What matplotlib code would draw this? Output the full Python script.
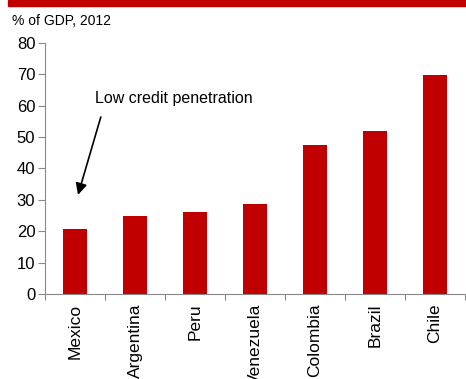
import matplotlib
matplotlib.use("Agg")
import matplotlib.pyplot as plt
from matplotlib.patches import Rectangle

countries = ['Mexico', 'Argentina', 'Peru', 'Venezuela', 'Colombia', 'Brazil', 'Chile']
credit = [20.7, 24.9, 26.0, 28.7, 47.5, 51.8, 69.7]
yticks = [0, 10, 20, 30, 40, 50, 60, 70, 80]

red = '#C00000'
plt.rcParams['font.family'] = ['Liberation Sans', 'DejaVu Sans']

fig = plt.figure(figsize=(4.66, 3.79), dpi=100)
ax = fig.add_axes([0.0966, 0.2243, 0.901, 0.6623])

x = list(range(len(countries)))
ax.bar(x, credit, width=0.39, color=red)
ax.set_xlim(-0.5, len(countries) - 0.5)
ax.set_ylim(0, 80)
ax.set_yticks(yticks)
ax.set_xticks([i - 0.5 for i in range(len(countries) + 1)])
ax.set_xticklabels([])
ax.set_xticks(x, minor=True)
ax.set_xticklabels(countries, minor=True, rotation=90, fontsize=12.5)
ax.tick_params(axis='x', which='minor', length=0, pad=7)
ax.tick_params(axis='x', which='major', length=4, color='#888888', direction='out')
ax.tick_params(axis='y', length=5, color='#888888', labelsize=12, pad=2)

for s in ['top', 'right']:
    ax.spines[s].set_visible(False)
for s in ['left', 'bottom']:
    ax.spines[s].set_color('#888888')

ax.text(0.33, 62.2, 'Low credit penetration', fontsize=11.5, va='center', ha='left')
ax.annotate('', xy=(0.05, 31.6), xytext=(0.43, 56.4),
            arrowprops=dict(arrowstyle='-|>', color='black', lw=1.2,
                            mutation_scale=17, shrinkA=0, shrinkB=0))

fig.text(0.026, 0.945, '% of GDP, 2012', fontsize=10, va='center', ha='left')
fig.patches.append(Rectangle((0.017, 0.984), 0.983, 0.016, transform=fig.transFigure,
                             color=red, figure=fig))

fig.savefig('out.png', dpi=100)
